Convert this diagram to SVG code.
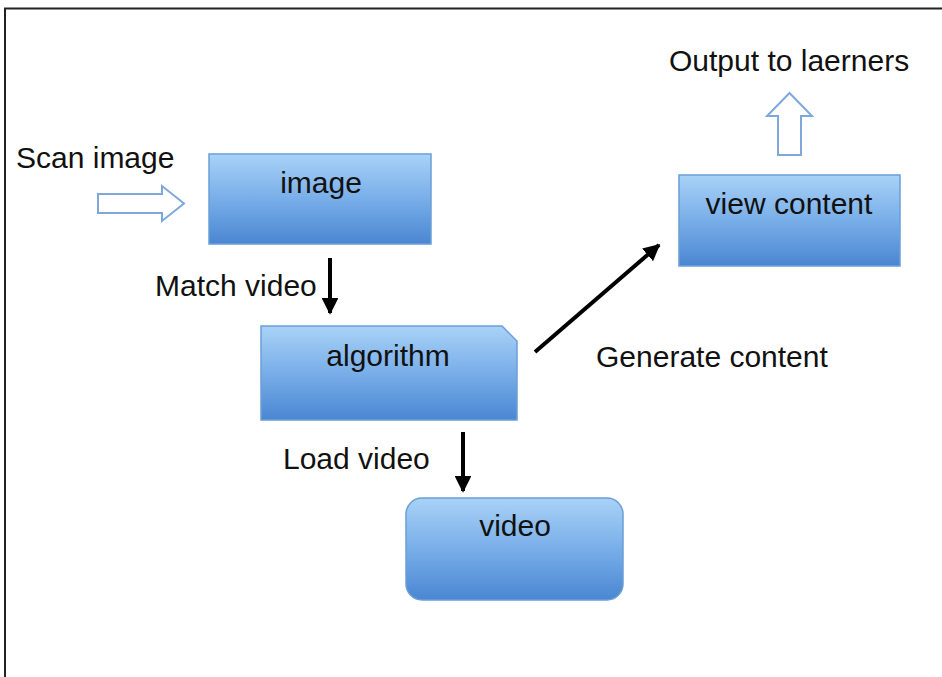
<svg xmlns="http://www.w3.org/2000/svg" width="942" height="677" viewBox="0 0 942 677">
  <defs>
    <linearGradient id="boxFill" x1="0" y1="0" x2="0" y2="1">
      <stop offset="0" stop-color="#a9d2f7"/>
      <stop offset="0.5" stop-color="#78aee8"/>
      <stop offset="1" stop-color="#4a86d2"/>
    </linearGradient>
    <marker id="arrowHead" viewBox="0 0 10 10" refX="9" refY="5" markerWidth="4.2" markerHeight="4.2" orient="auto" markerUnits="strokeWidth">
      <path d="M0,0 L10,5 L0,10 z" fill="#000"/>
    </marker>
  </defs>
  <style>
    .box { fill: url(#boxFill); stroke: #6b9fd8; stroke-width: 1.5; }
    .label { font-family: "Liberation Sans", Arial, sans-serif; font-size: 30px; fill: #111; }
    .mid { text-anchor: middle; }
    .conn { stroke: #000; stroke-width: 4; fill: none; marker-end: url(#arrowHead); }
    .hollow { fill: #fff; stroke: #7ea8dc; stroke-width: 2; stroke-linejoin: miter; }
  </style>

  <rect width="942" height="677" fill="#fff"/>
  <!-- frame: only top and left edges fall inside the canvas -->
  <path d="M5,677 V8.5 H942" fill="none" stroke="#222" stroke-width="2"/>

  <g id="scan-input">
    <text class="label" x="16" y="168">Scan image</text>
    <path class="hollow" d="M98,194 H162 V186 L184,203.5 L162,221 V213 H98 Z"/>
  </g>

  <g id="node-image">
    <rect class="box" x="209" y="154" width="222" height="90"/>
    <text class="label mid" x="321" y="193">image</text>
  </g>

  <g id="node-algorithm">
    <path class="box" d="M261,326 H502 L517,341 V420 H261 Z"/>
    <text class="label mid" x="388" y="366">algorithm</text>
  </g>

  <g id="node-video">
    <rect class="box" x="406" y="498" width="217" height="102" rx="16" ry="16"/>
    <text class="label mid" x="515" y="536">video</text>
  </g>

  <g id="node-view-content">
    <rect class="box" x="679" y="175" width="221" height="91"/>
    <text class="label mid" x="789" y="214">view content</text>
  </g>

  <g id="output">
    <text class="label" x="669" y="71">Output to laerners</text>
    <path class="hollow" d="M778,155 V116 H767 L789.5,93 L812,116 H801 V155 Z"/>
  </g>

  <g id="connectors">
    <line class="conn" x1="330" y1="258" x2="330" y2="313"/>
    <text class="label" x="155" y="296">Match video</text>
    <line class="conn" x1="463" y1="432" x2="463" y2="491"/>
    <text class="label" x="283" y="469">Load video</text>
    <line class="conn" x1="535" y1="352" x2="659" y2="245"/>
    <text class="label" x="596" y="367">Generate content</text>
  </g>
</svg>
